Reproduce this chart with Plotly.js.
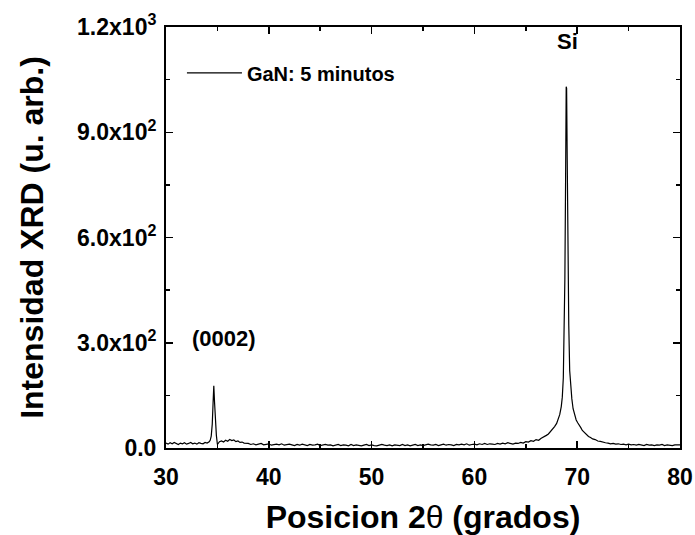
<!DOCTYPE html>
<html>
<head>
<meta charset="utf-8">
<script src="https://cdn.plot.ly/plotly-3.0.1.min.js"></script>
<style>html,body{margin:0;padding:0;background:#fff;}#chart{width:695px;height:535px;}</style>
</head>
<body>
<div id="chart"></div>
<script>
// 2-theta positions (degrees)
const twoTheta = [
30.0,30.2,30.4,30.6,30.8,31.0,31.2,31.4,31.6,31.8,32.0,32.2,32.4,32.6,32.8,33.0,33.2,33.4,33.6,33.8,34.0,34.2,
34.3,34.4,34.5,34.58,34.65,34.72,34.8,34.9,35.0,35.1,
35.2,35.4,35.6,35.8,36.0,36.2,36.4,36.6,36.8,37.0,37.2,37.4,37.6,
38.0,38.25,38.5,38.75,39.0,39.25,39.5,39.75,40.0,40.25,40.5,40.75,41.0,41.25,41.5,41.75,
42.0,42.25,42.5,42.75,43.0,43.25,43.5,43.75,44.0,44.25,44.5,44.75,45.0,45.25,45.5,45.75,
46.0,46.25,46.5,46.75,47.0,47.25,47.5,47.75,48.0,48.25,48.5,48.75,49.0,49.25,49.5,49.75,
50.0,50.25,50.5,50.75,51.0,51.25,51.5,51.75,52.0,52.25,52.5,52.75,53.0,53.25,53.5,53.75,
54.0,54.25,54.5,54.75,55.0,55.25,55.5,55.75,56.0,56.25,56.5,56.75,57.0,57.25,57.5,57.75,
58.0,58.25,58.5,58.75,59.0,59.25,59.5,59.75,60.0,60.25,60.5,60.75,61.0,61.25,61.5,61.75,
62.0,62.25,62.5,62.75,63.0,63.25,63.5,63.75,64.0,
64.25,64.5,64.75,65.0,65.25,65.5,65.75,66.0,66.25,66.5,66.75,67.0,67.2,67.4,67.6,67.8,
68.0,68.15,68.3,68.45,68.55,68.65,68.72,68.8,68.87,68.93,68.97,69.03,69.1,69.18,69.27,69.37,
69.48,69.6,69.75,69.9,70.05,70.2,70.35,70.5,70.7,70.9,71.1,71.3,71.5,71.75,72.0,72.25,
72.5,72.75,73.0,73.25,73.5,73.75,74.0,74.25,74.5,74.75,75.0,75.25,75.5,75.75,76.0,76.25,
76.5,76.75,77.0,77.25,77.5,77.75,78.0,78.25,78.5,78.75,79.0,79.25,79.5,79.75,80.0
];
// XRD intensity (arb. units)
const intensity = [
14,11,15,12,16,13,10,14,12,15,11,13,16,12,14,11,15,13,12,16,14,18,
22,34,68,128,177,132,72,36,10,16,
18,20,17,22,19,24,21,23,18,20,16,17,14,
13,10,12,9,11,13,9,10,12,8,10,11,9,12,8,10,
11,9,7,10,8,11,9,7,10,8,9,11,7,9,10,8,
9,6,8,10,7,9,8,6,10,7,9,8,6,8,10,7,
9,7,6,8,10,8,7,9,6,9,8,7,10,7,9,6,
8,10,7,9,7,8,11,9,8,10,7,9,11,8,10,9,
7,10,9,11,9,12,8,10,11,9,12,10,13,10,12,11,
10,13,11,14,12,15,13,11,14,
13,16,14,18,17,21,19,24,22,28,31,36,40,47,52,61,
70,80,95,118,145,200,300,480,760,1030,1025,820,560,350,220,170,
140,112,92,80,72,63,58,50,44,38,33,30,26,24,20,19,
16,15,14,12,13,11,12,10,11,9,11,9,10,8,10,9,
7,10,8,9,7,9,8,10,7,9,8,7,9,8,9
];
const seriesName = 'GaN: 5 minutos';
const yTickVals = [0, 300, 600, 900, 1200];
const yTickText = ['0.0', '3.0x10<sup>2</sup>', '6.0x10<sup>2</sup>', '9.0x10<sup>2</sup>', '1.2x10<sup>3</sup>'];
const xTickVals = [30, 40, 50, 60, 70, 80];
const peakLabels = ['(0002)', 'Si'];
const peakLabelX = [35.6, 69.1];
const peakLabelY = [312, 1160];

const FONT = '"Liberation Sans", Arial, Helvetica, sans-serif';

const trace = {
  x: twoTheta, y: intensity, type: 'scatter', mode: 'lines',
  name: seriesName,
  line: {color: '#000', width: 1.2}
};

const axisCommon = {
  showgrid: false, zeroline: false,
  showline: true, linecolor: '#000', linewidth: 2, mirror: 'ticks',
  ticks: 'inside', ticklen: 7, tickwidth: 1.5, tickcolor: '#000',
  tickfont: {family: FONT, size: 23, color: '#000', weight: 'bold'}
};

const layout = {
  width: 695, height: 535,
  margin: {l: 166, r: 15, t: 27, b: 87},
  paper_bgcolor: '#fff', plot_bgcolor: '#fff',
  font: {family: FONT, color: '#000'},
  showlegend: true,
  legend: {
    x: 0.031, xanchor: 'left', y: 0.891, yanchor: 'middle',
    bgcolor: 'rgba(0,0,0,0)', borderwidth: 0, itemwidth: 55,
    font: {family: FONT, size: 20, color: '#000', weight: 'bold'}
  },
  xaxis: Object.assign({}, axisCommon, {
    range: [30, 80], tickvals: xTickVals, ticklabelstandoff: 7,
    minor: {dtick: 5, ticks: 'inside', ticklen: 4, tickwidth: 1.5, tickcolor: '#000'},
    title: {text: 'Posicion 2<span style="font-weight:normal">θ</span> (grados)', standoff: 18,
      font: {family: FONT, size: 32, color: '#000', weight: 'bold'}}
  }),
  yaxis: Object.assign({}, axisCommon, {
    range: [0, 1200], tickvals: yTickVals, ticktext: yTickText, ticklabelstandoff: 3,
    minor: {tickvals: [150, 450, 750, 1050], ticks: 'inside', ticklen: 4, tickwidth: 1.5, tickcolor: '#000'},
    title: {text: 'Intensidad XRD (u. arb.)', standoff: 24,
      font: {family: FONT, size: 32, color: '#000', weight: 'bold'}}
  }),
  annotations: peakLabels.map((t, i) => ({
    x: peakLabelX[i], y: peakLabelY[i], xref: 'x', yref: 'y', text: t, showarrow: false,
    font: {family: FONT, size: 22, color: '#000', weight: 'bold'}
  }))
};

Plotly.newPlot('chart', [trace], layout, {displayModeBar: false, staticPlot: true}).then(gd => {
  gd.querySelectorAll('.legendlines path').forEach(p => p.setAttribute('d', 'M5,0h55'));
});
</script>
</body>
</html>
